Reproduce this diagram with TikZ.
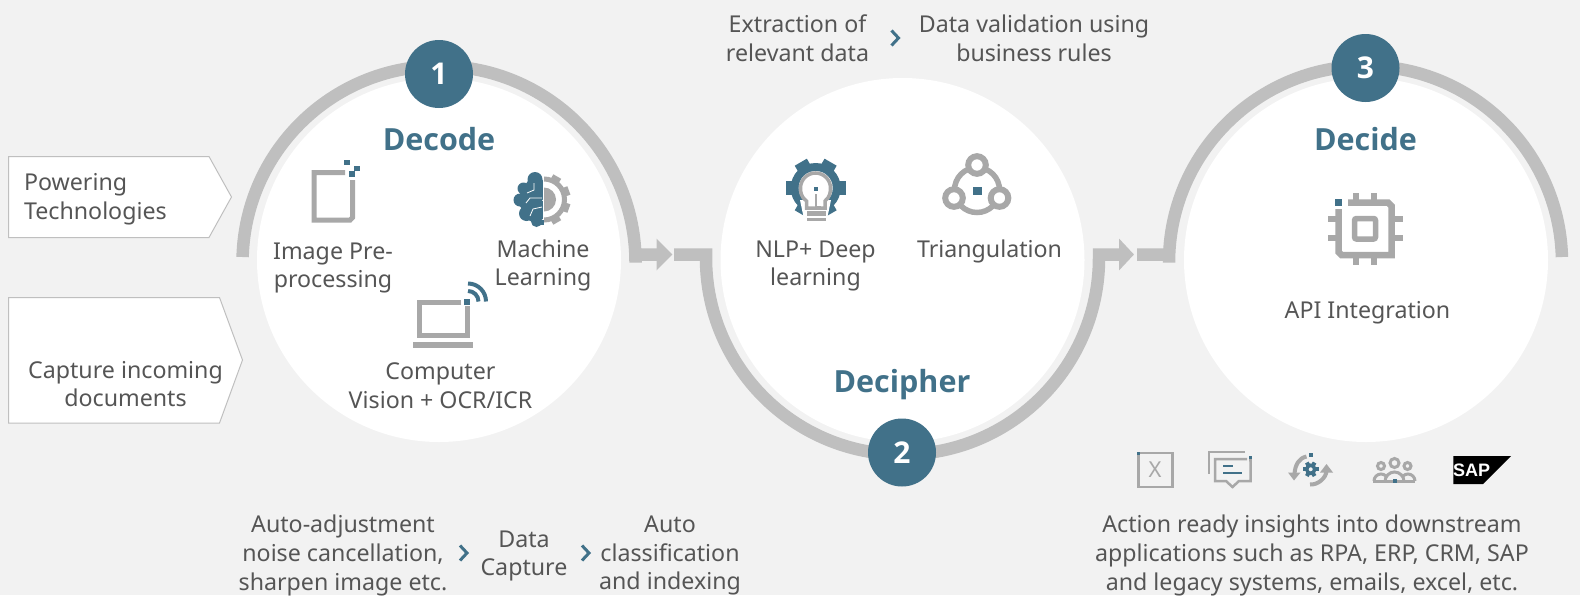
\documentclass[tikz,border=0pt]{standalone}
\usepackage{fontspec}
\setmainfont{Noto Sans}
\newfontfamily\titlefont{Open Sans}
\newfontfamily\logofont{Liberation Sans}
\usetikzlibrary{arrows.meta}
\definecolor{pageGrey}{HTML}{F2F2F2}
\definecolor{ringGrey}{HTML}{BFBFBF}
\definecolor{iconGrey}{HTML}{A8A8A8}
\definecolor{tealBlue}{HTML}{417189}
\definecolor{textGrey}{HTML}{555555}

\begin{document}
\begin{tikzpicture}
[x=1pt,y=1pt,yscale=-1,%
  discDecorate/.style={shape=circle,inner sep=0pt,minimum size=364pt,fill=white},%
  badgeDecorate/.style={shape=circle,inner sep=0pt,minimum size=68pt,fill=tealBlue,text=white,font=\titlefont\fontsize{30}{34}\selectfont\bfseries},%
  titleDecorate/.style={text=tealBlue,font=\titlefont\fontsize{30.5}{34}\selectfont\bfseries},%
  textDecorate/.style={text=textGrey,align=center,font=\fontsize{23.2}{28.7}\selectfont},%
  boxDecorate/.style={draw=ringGrey,fill=white,line width=1pt},%
  ringDecorate/.style={draw=ringGrey,line width=12.5pt,line join=miter},%
  chevronDecorate/.style={draw=tealBlue,line width=3pt},%
  iconDecorate/.style={draw=iconGrey,line width=5pt},%
  thinIconDecorate/.style={draw=iconGrey,line width=2.5pt},%
  tealDecorate/.style={fill=tealBlue}]
\useasboundingbox (0,0) rectangle (1580,595);
\fill[pageGrey] (0,0) rectangle (1580,595);
%% discs
\foreach \nodename/\x in {decodeDisc/439, decipherDisc/902.5, decideDisc/1366} {
  \node (\nodename) at (\x,260) [discDecorate] {};
}
%% rings and arrows
\coordinate (decodeStart) at (242.6,257);
\coordinate (decipherStart) at (674,254.5);
\coordinate (decideStart) at (1137,254.5);
\draw[ringDecorate,-{Triangle[length=16pt,width=31pt]}] (decodeStart)
  arc[start angle=181.6,end angle=360,radius=196.5pt] -- (635.6,254.5) -- (672.5,254.5);
\draw[ringDecorate,-{Triangle[length=15pt,width=31pt]}] (decipherStart) -- (706,254.5) -- (706,258)
  arc[start angle=180,end angle=0,radius=196.5pt] -- (1099,254.5) -- (1134,254.5);
\draw[ringDecorate] (decideStart) -- (1169,254.5) -- (1169,262.5)
  arc[start angle=180,end angle=358.4,radius=196.5pt];
%% badges
\foreach \nodename/\x/\y/\num in {badgeOne/439/74/1, badgeTwo/902/452.5/2, badgeThree/1365.5/68/3} {
  \node (\nodename) at (\x,\y) [badgeDecorate] {\num};
}
%% titles
\foreach \nodename/\x/\y/\txt in {decodeTitle/439/139/Decode, decipherTitle/902/385/Decipher, decideTitle/1365.5/139/Decide} {
  \node (\nodename) at (\x,\y) [titleDecorate] {\txt};
}
%% side boxes
\draw[boxDecorate] (8.5,156.5) -- (209,156.5) -- (231.5,197) -- (209,237.5) -- (8.5,237.5) -- cycle;
\draw[boxDecorate] (8.5,297.5) -- (219.5,297.5) -- (242.5,360) -- (219.5,423) -- (8.5,423) -- cycle;
\node (poweringText) at (20.5,199.5) [textDecorate,anchor=west,align=left] {Powering\\Technologies};
%% labels
\foreach \nodename/\x/\y/\txt in {
  captureText/125.5/384/{Capture incoming\\documents},
  imageText/333/268/{Image Pre-\\processing},
  machineText/543/265.5/{Machine\\Learning},
  visionText/440.5/386/{Computer\\Vision + OCR/ICR},
  nlpText/815.5/266/{NLP+ Deep\\learning},
  triangText/989.5/251/{Triangulation},
  extractText/797.5/38/{Extraction of\\relevant data},
  validText/1034/38/{Data validation using\\business rules},
  apiText/1367.5/312.5/{API Integration},
  adjustText/343/555.5/{Auto-adjustment\\noise cancellation,\\sharpen image etc.},
  captureDataText/524/556/{Data\\Capture},
  classifyText/670/555.5/{Auto\\classification\\and indexing},
  actionText/1312/555.5/{Action ready insights into downstream\\applications such as RPA, ERP, CRM, SAP\\and legacy systems, emails, excel, etc.}} {
  \node (\nodename) at (\x,\y) [textDecorate] {\txt};
}
%% chevrons
\foreach \x/\y in {895/38, 463.5/553, 585.5/553} {
  \draw[chevronDecorate] (\x-3.5,\y-7.5) -- (\x+3.5,\y) -- (\x-3.5,\y+7.5);
}
%% image icon
\draw[iconDecorate] (345,172.5) -- (314,172.5) -- (314,220.2) -- (350,220.2) -- (352.5,217.5) -- (352.5,180);
\fill[tealDecorate] (344,160) rectangle (350,165);
\fill[tealDecorate] (354,166) rectangle (360,171);
\fill[tealDecorate] (349,171) rectangle (354.5,177);
%% brain icon
\begin{scope}
\clip (505,165) rectangle (542.8,232);
\foreach \x/\y/\r in {535/179.5/7.5, 523.5/188.5/6, 520/200/6.5, 526.5/213.5/7.5, 536.5/221.5/5.5, 530/200/12, 536/190/12, 535/210/12} {
  \fill[tealDecorate] (\x,\y) circle[radius=\r pt];
}
\draw[white,line width=0.8pt] (534,183) -- (534,190) -- (527,193) (542,198) -- (530,198) -- (526,203)
  (542,207) -- (533,209) -- (530,216);
\end{scope}
\begin{scope}
\clip (544.2,170) rectangle (575,230);
\draw[iconGrey,line width=5pt] (544,199.5) circle[radius=20.5pt];
\foreach \a in {-60,-20,20,60} {
  \fill[iconGrey,rotate around={\a:(544,199.5)}] (564,195) rectangle (570.5,204);
}
\fill[iconGrey] (544,199.5) circle[radius=12pt];
\end{scope}
\fill[tealDecorate] (538.5,219.5) rectangle (543.5,224.5);
%% laptop icon
\draw[iconDecorate] (461,302.5) -- (419,302.5) -- (419,335.5) -- (467.5,335.5) -- (467.5,306);
\fill[iconGrey] (413,342) rectangle (473,348);
\fill[tealDecorate] (464,299) rectangle (470,305);
\draw[tealBlue,line width=4pt] (468,291) arc[start angle=-90,end angle=0,radius=10.5pt];
\draw[tealBlue,line width=4pt] (468,283.5) arc[start angle=-90,end angle=0,radius=18pt];
%% bulb icon
\fill[tealDecorate] (815.7,188) circle[radius=25pt];
\foreach \a in {0,60,...,300} {
  \fill[tealBlue,rotate around={\a:(815.7,188)}] (836,181) rectangle (845.5,195);
}
\fill[white] (805,224) -- (800,200) -- (831,200) -- (826,224) -- cycle;
\fill[white] (815.7,188) circle[radius=17pt];
\draw[iconGrey,line width=3.5pt] (806.5,208) -- (806.5,201) .. controls (801,197) and (800.5,192) .. (800.5,188)
  arc[start angle=180,end angle=360,radius=15pt] .. controls (830.5,192) and (830,197) .. (825,201) -- (825,208) -- cycle;
\draw[iconGrey,line width=2.5pt] (816,194) -- (816,207) -- (821,207);
\fill[tealDecorate] (813.5,187) rectangle (818,191);
\fill[iconGrey] (806.5,211) rectangle (826,215.5);
\fill[iconGrey] (806.5,218) rectangle (826,221);
%% triangle icon
\draw[iconGrey,line width=5.5pt] (977,190) circle[radius=22.5pt];
\foreach \x/\y in {977/165, 954/198, 999.5/198} {
  \draw[iconGrey,line width=6pt,fill=white] (\x,\y) circle[radius=8.8pt];
}
\fill[tealDecorate] (973,187) rectangle (981.5,194.5);
%% chip icon
\draw[iconGrey,line width=6.5pt] (1348,202.5) -- (1388,202.5) -- (1391.5,206) -- (1391.5,255) -- (1341.5,255) -- (1338.5,252) -- (1338.5,209);
\draw[iconGrey,line width=5.5pt,rounded corners=2pt] (1354.5,218.5) rectangle (1375.5,239);
\foreach \x in {1355.7,1374.3} {
  \fill[iconGrey] (\x-3,192.5) rectangle (\x+3,200);
  \fill[iconGrey] (\x-3,257) rectangle (\x+3,264.5);
}
\foreach \y in {219,238} {
  \fill[iconGrey] (1328,\y-3) rectangle (1336,\y+3);
  \fill[iconGrey] (1394,\y-3) rectangle (1402.5,\y+3);
}
\fill[tealDecorate] (1335,199) rectangle (1342,206);
%% excel icon
\draw[thinIconDecorate] (1138.5,453) rectangle (1172.5,487);
\fill[tealDecorate] (1137,452) rectangle (1140,455);
\node (excelLetter) at (1155,470) [text=iconGrey,font=\fontsize{22}{24}\selectfont] {X};
%% message icon
\draw[thinIconDecorate] (1245,452) -- (1209,452) -- (1209,474);
\draw[thinIconDecorate] (1249,460) -- (1250.5,460) -- (1250.5,481) -- (1239,481) -- (1232.5,487) -- (1226,481) -- (1215,481) -- (1215,459) -- (1247,459);
\fill[tealDecorate] (1223,465) rectangle (1233,467);
\fill[tealDecorate] (1223,471.5) rectangle (1242,473.5);
\fill[tealDecorate] (1249,456) rectangle (1252,459);
%% refresh icon
\draw[iconGrey,line width=4pt] (1306.5,456.5) .. controls (1299,458) and (1295,465) .. (1294.5,474);
\fill[iconGrey] (1288,472.5) -- (1300.5,472.5) -- (1294,480.5) -- cycle;
\draw[iconGrey,line width=4pt] (1310,484.5) .. controls (1318,485) and (1326,478) .. (1326.5,471);
\fill[iconGrey] (1320,472.5) -- (1333,472.5) -- (1326.5,464) -- cycle;
\fill[tealDecorate] (1309,453) rectangle (1313,457);
\draw[tealBlue,line width=3.5pt] (1310.7,469.3) circle[radius=4pt];
\foreach \a in {0,60,...,300} {
  \fill[tealBlue,rotate around={\a:(1310.7,469.3)}] (1315,467.3) rectangle (1318.5,471.3);
}
%% people icon
\foreach \x/\y/\r in {1381/466/3.5, 1407.5/466/3.5, 1394.5/463/4.5} {
  \draw[iconGrey,line width=3pt,fill=pageGrey] (\x,\y) circle[radius=\r pt];
}
\draw[iconGrey,line width=3pt] (1374,481) arc[start angle=180,end angle=360,radius=7pt] (1401,481) arc[start angle=180,end angle=360,radius=7pt];
\draw[iconGrey,line width=3pt,fill=pageGrey] (1385,481.5) arc[start angle=180,end angle=360,radius=9.5pt];
\draw[iconGrey,line width=3pt] (1373,481) -- (1415,481);
\fill[tealDecorate] (1392.5,479) rectangle (1396.5,483);
%% logo
\fill[black] (1453.3,456) -- (1511,456) -- (1483,484) -- (1453.3,484) -- cycle;
\node (logoText) at (1471.5,470) [text=white,font=\logofont\fontsize{18}{20}\selectfont\bfseries,inner sep=0pt] {SAP};
\end{tikzpicture}
\end{document}
